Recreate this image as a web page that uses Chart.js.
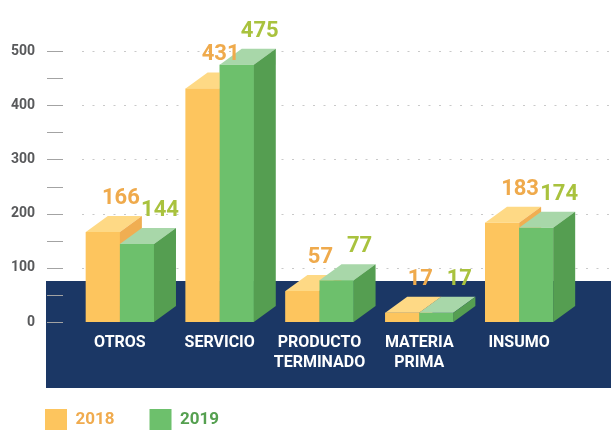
<!DOCTYPE html>
<html>
<head>
<meta charset="utf-8">
<script src="https://cdn.jsdelivr.net/npm/chart.js@4.4.0/dist/chart.umd.min.js"></script>
<style>
  html, body { margin: 0; padding: 0; overflow: hidden; background: #fff; }
  #wrap { width: 611px; height: 441px; position: relative; }
</style>
</head>
<body>
<div id="wrap"><canvas id="chart"></canvas></div>
<script>
// data
const categories = [['OTROS'], ['SERVICIO'], ['PRODUCTO', 'TERMINADO'], ['MATERIA', 'PRIMA'], ['INSUMO']];
const series2018 = [166, 431, 57, 17, 183];
const series2019 = [144, 475, 77, 17, 174];
const yLabels = [0, 100, 200, 300, 400, 500];

const FONT = "Roboto, 'DejaVu Sans Condensed', sans-serif";
const depth = { dx: 22, dy: 16 };
const faces = [
    { front: '#fdc55e', top: '#fed985', side: '#f0ae52', label: '#efaa4c', legend: '#f0ab4e', shift: 18 },
    { front: '#6dc06c', top: '#a8d7a9', side: '#559e51', label: '#a9c23e', legend: '#55a050', shift: 23 }
];

// navy band, dotted grid and the little tick dashes on the left
const backdrop = {
    id: 'backdrop',
    beforeDraw(chart) {
        const { ctx, chartArea: a, scales: { y } } = chart;
        ctx.save();
        ctx.fillStyle = '#1b3765';
        ctx.fillRect(46, a.bottom - 41, chart.width - 46, 107);

        ctx.strokeStyle = '#c9c9c9';
        ctx.lineWidth = 1;
        ctx.setLineDash([2, 8.5]);
        yLabels.forEach(v => {
            if (!v) return;
            const py = Math.round(y.getPixelForValue(v)) + 0.5;
            ctx.beginPath();
            ctx.moveTo(82, py);
            ctx.lineTo(chart.width, py);
            ctx.stroke();
        });
        ctx.setLineDash([]);

        const last = yLabels[yLabels.length - 1];
        ctx.strokeStyle = '#a3a3a3';
        yLabels.forEach(v => {
            [v, v + 50].forEach(m => {
                if (m > last) return;
                const py = Math.round(y.getPixelForValue(m)) + 0.5;
                ctx.beginPath();
                ctx.moveTo(47, py);
                ctx.lineTo(63, py);
                ctx.stroke();
            });
        });
        ctx.restore();
    }
};

function poly(ctx, pts, color) {
    ctx.fillStyle = color;
    ctx.beginPath();
    pts.forEach((p, i) => i ? ctx.lineTo(p[0], p[1]) : ctx.moveTo(p[0], p[1]));
    ctx.closePath();
    ctx.fill();
}

// fake 3d: redraw each front with its top and side, category by category
const bars3d = {
    id: 'bars3d',
    afterDatasetsDraw(chart) {
        const { ctx } = chart;
        const metas = chart.data.datasets.map((_, d) => chart.getDatasetMeta(d));
        const { dx, dy } = depth;
        ctx.save();
        categories.forEach((c, i) => {
            metas.forEach((meta, d) => {
                const b = meta.data[i].getProps(['x', 'y', 'base', 'width'], true);
                const f = faces[d];
                const x0 = b.x - b.width / 2, x1 = b.x + b.width / 2;
                ctx.fillStyle = f.front;
                ctx.fillRect(x0, b.y, x1 - x0, b.base - b.y);
                poly(ctx, [[x0, b.y], [x1, b.y], [x1 + dx, b.y - dy], [x0 + dx, b.y - dy]], f.top);
                poly(ctx, [[x1, b.y], [x1 + dx, b.y - dy], [x1 + dx, b.base - dy], [x1, b.base]], f.side);
            });
        });

        ctx.font = 'bold 22px ' + FONT;
        ctx.textAlign = 'center';
        ctx.textBaseline = 'alphabetic';
        metas.forEach((meta, d) => {
            const vals = chart.data.datasets[d].data;
            ctx.fillStyle = faces[d].label;
            meta.data.forEach((el, i) => {
                const b = el.getProps(['x', 'y'], true);
                ctx.fillText(String(vals[i]), b.x + faces[d].shift, b.y - 28);
            });
        });
        ctx.restore();
    }
};

new Chart(document.getElementById('chart'), {
    type: 'bar',
    data: {
        labels: categories,
        datasets: [
            { label: '2018', data: series2018, backgroundColor: faces[0].front },
            { label: '2019', data: series2019, backgroundColor: faces[1].front }
        ]
    },
    options: {
        responsive: true,
        maintainAspectRatio: false,
        animation: false,
        barPercentage: 1,
        categoryPercentage: 0.683,
        layout: { padding: { left: 10, right: 42, top: 24, bottom: 0 } },
        plugins: {
            tooltip: { enabled: false },
            legend: {
                position: 'bottom',
                align: 'start',
                labels: {
                    boxWidth: 22,
                    boxHeight: 22,
                    padding: 35,
                    font: { family: FONT, size: 17, weight: 'bold' },
                    generateLabels: chart => chart.data.datasets.map((ds, i) => ({
                        text: ds.label,
                        fillStyle: faces[i].front,
                        strokeStyle: faces[i].front,
                        lineWidth: 0,
                        fontColor: faces[i].legend,
                        datasetIndex: i,
                        hidden: false
                    }))
                }
            }
        },
        scales: {
            x: {
                grid: { display: false, drawTicks: false },
                border: { display: false },
                ticks: {
                    color: '#ffffff',
                    padding: 11,
                    maxRotation: 0,
                    minRotation: 0,
                    autoSkip: false,
                    font: { family: FONT, size: 16, weight: 'bold', lineHeight: 1.25 }
                },
                afterFit(s) { s.height = 52; }
            },
            y: {
                min: 0,
                max: 550,
                grid: { display: false, drawTicks: false },
                border: { display: false },
                afterBuildTicks(s) { s.ticks = yLabels.map(v => ({ value: v })); },
                afterFit(s) {
                    s.width = 60;
                    s.paddingTop = 0;
                    s.paddingBottom = 0;
                },
                ticks: {
                    color: '#58595b',
                    padding: 35,
                    font: { family: FONT, size: 14, weight: 'bold' }
                }
            }
        }
    },
    plugins: [backdrop, bars3d]
});
</script>
</body>
</html>
